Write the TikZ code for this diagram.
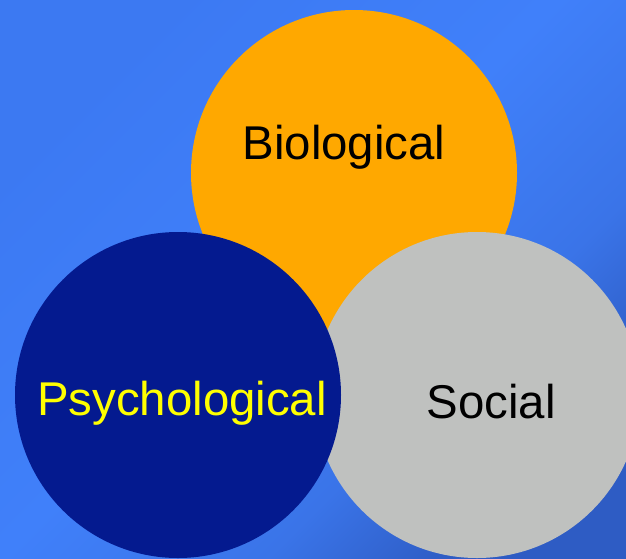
\documentclass[tikz,border=0pt]{standalone}
\usepackage{fontspec}
\setmainfont{Liberation Sans}
\definecolor{bgA}{HTML}{3C79F2}
\definecolor{bgB}{HTML}{4080FA}
\definecolor{bgD}{HTML}{3A74E8}
\definecolor{bgC}{HTML}{2E5CC4}
\definecolor{orangeC}{HTML}{FFA800}
\definecolor{navyC}{HTML}{041A8F}
\definecolor{greyC}{HTML}{BFC1BF}
\definecolor{yellowC}{HTML}{FFFF00}
\pgfdeclareverticalshading{bgshade}{100bp}{color(0bp)=(bgC); color(25bp)=(bgC); color(36bp)=(bgD); color(52bp)=(bgB); color(75bp)=(bgA); color(100bp)=(bgA)}
\begin{document}
\begin{tikzpicture}[x=1pt,y=-1pt,
  disc/.style={circle,draw=none,inner sep=0pt,minimum size=326pt},
  lbl/.style={anchor=base,inner sep=0pt,font=\fontsize{47.4}{52}\selectfont}]
\useasboundingbox (0,0) rectangle (626,558);
\clip (0,0) rectangle (626,558);
\shade[shading=bgshade,shading angle=45] (0,0) rectangle (626,558);
\node[disc,fill=orangeC] (bio) at (354,173) {};
\node[disc,fill=greyC] (soc) at (477,395) {};
\node[disc,fill=navyC] (psy) at (178,395) {};
\node[lbl,text=black] (biot) at (344,159) {Biological};
\node[lbl,text=yellowC] (psyt) at (182,415) {Psychological};
\node[lbl,text=black] (soct) at (491,418) {Social};
\end{tikzpicture}
\end{document}
